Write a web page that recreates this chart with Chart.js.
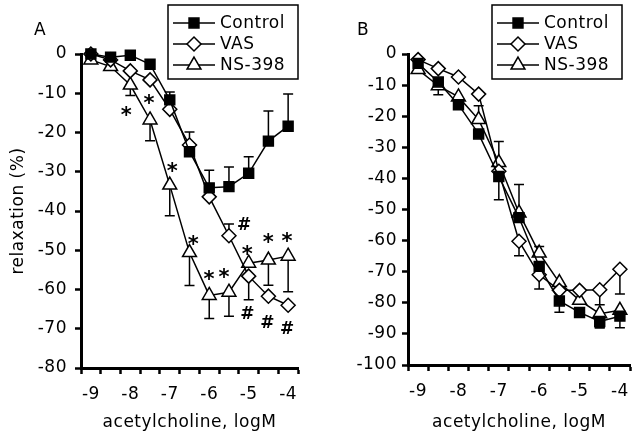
<!DOCTYPE html>
<html>
<head>
<meta charset="utf-8">
<script src="https://cdn.jsdelivr.net/npm/chart.js@4"></script>
<style>
  body { margin: 0; background: #fff; }
  #wrap { display: flex; width: 640px; height: 436px; }
  canvas { display: block; }
</style>
</head>
<body>
<div id="wrap">
  <canvas id="chartA" width="320" height="436"></canvas>
  <canvas id="chartB" width="320" height="436"></canvas>
</div>
<script>
// acetylcholine doses (log M)
const doses = [-9, -8.5, -8, -7.5, -7, -6.5, -6, -5.5, -5, -4.5, -4];
const seriesNames = ["Control", "VAS", "NS-398"];

// panel A: relaxation (%), error = signed length of the one-sided bar
const controlA = [0, -0.8, -0.3, -2.6, -11.7, -24.9, -34.1, -33.8, -30.4, -22.2, -18.4];
const controlAErr = [0, 0, 0, 0, 2, 5, 4.5, 5, 4.2, 7.7, 8.2];
const vasA = [0, -1.5, -4.3, -6.6, -14.1, -23.2, -36.4, -46.3, -56.6, -61.7, -64.0];
const vasAErr = [0, 0, 0, 0, 0, 0, 0, 3, -6, 0, 0];
const nsA = [-1.5, -3.2, -7.9, -16.8, -33.4, -50.6, -61.5, -60.7, -53.3, -52.5, -51.5];
const nsAErr = [0, 0, -2.7, -5.3, -7.8, -8.4, -5.9, -6.1, 0, -6.4, -9.1];

// panel B
const controlB = [-3, -9, -16.3, -25.7, -39.4, -52.6, -68.3, -79.4, -83.1, -86, -84.3];
const controlBErr = [0, 0, 0, 0, -7.5, 0, 0, -3.6, 0, -2, 0];
const vasB = [-1.8, -4.7, -7.4, -12.9, -37.7, -60.2, -71, -76, -76, -75.8, -69.2];
const vasBErr = [0, 0, 0, 0, 0, -4.7, -4.6, 0, 0, -4.8, -8];
const nsB = [-5, -10.2, -13.8, -21.1, -34.9, -51.1, -64, -73.5, -79.2, -83.5, -82.4];
const nsBErr = [0, -2.9, 0, 4.5, 6.8, 9.1, 2.1, 0, 0, -4.5, -5.6];

// significance marks in panel A
const starX = [-8.1, -7.52, -6.93, -6.4, -6.0, -5.62, -5.03, -4.5, -4.02];
const starY = [-14.5, -11.5, -28.7, -47.4, -56.3, -55.7, -49.9, -47, -46.5];
const hashX = [-5.11, -5.03, -4.52, -4.02];
const hashY = [-43.3, -65.9, -68.2, -69.6];

// tick labels
const xTickValues = [];
for (let v = -9.25; v <= -3.74; v += 0.25) xTickValues.push(Math.round(v * 100) / 100);
const yTicksA = [0, -10, -20, -30, -40, -50, -60, -70, -80];
const yTicksB = [0, -10, -20, -30, -40, -50, -60, -70, -80, -90, -100];

const FONT = '"DejaVu Sans", sans-serif';
Chart.defaults.font.family = FONT;
Chart.defaults.color = "#000";

const markerStyles = [
    { pointStyle: "rect", radius: 7, fill: "#000" },
    { pointStyle: "rectRot", radius: 7, fill: "#fff" },
    { pointStyle: "triangle", radius: 8, fill: "#fff" }
];

function makeDataset(i, values, errs) {
    const m = markerStyles[i];
    return {
        label: seriesNames[i],
        data: doses.map((d, k) => ({ x: d, y: values[k] })),
        err: errs,
        borderColor: "#000",
        borderWidth: 1.5,
        pointStyle: m.pointStyle,
        pointRadius: m.radius,
        pointBackgroundColor: m.fill,
        pointBorderColor: "#000",
        pointBorderWidth: 1.5,
        tension: 0,
        clip: false
    };
}

// the scanned lettering is a little wider than DejaVu
const spacing = {
    id: "spacing",
    beforeDraw(chart) { chart.ctx.letterSpacing = "0.5px"; }
};

const errorBars = {
    id: "errorBars",
    beforeDatasetsDraw(chart) {
        const { ctx, scales: { x, y } } = chart;
        ctx.save();
        ctx.strokeStyle = "#000";
        ctx.lineWidth = 1.5;
        chart.data.datasets.forEach(ds => {
            ds.err.forEach((e, i) => {
                if (!e) return;
                const px = x.getPixelForValue(ds.data[i].x);
                const y0 = y.getPixelForValue(ds.data[i].y);
                const y1 = y.getPixelForValue(ds.data[i].y + e);
                ctx.beginPath();
                ctx.moveTo(px, y0);
                ctx.lineTo(px, y1);
                ctx.moveTo(px - 5, y1);
                ctx.lineTo(px + 5, y1);
                ctx.stroke();
            });
        });
        ctx.restore();
    }
};

const marks = {
    id: "marks",
    afterDatasetsDraw(chart, args, opts) {
        if (!opts.items) return;
        const { ctx, scales: { x, y } } = chart;
        ctx.save();
        ctx.fillStyle = "#000";
        ctx.textAlign = "center";
        ctx.textBaseline = "alphabetic";
        opts.items.forEach(it => {
            ctx.font = it.text === "*" ? `bold 21px ${FONT}` : `bold 17px ${FONT}`;
            const m = ctx.measureText(it.text);
            const off = (m.actualBoundingBoxAscent - m.actualBoundingBoxDescent) / 2;
            ctx.fillText(it.text, x.getPixelForValue(it.x), y.getPixelForValue(it.y) + off);
        });
        ctx.restore();
    }
};

const legendBox = {
    id: "legendBox",
    afterDraw(chart, args, opts) {
        const ctx = chart.ctx;
        const bx = opts.x, by = 5, bw = 130, bh = 74;
        ctx.save();
        ctx.strokeStyle = "#000";
        ctx.lineWidth = 1.5;
        ctx.strokeRect(bx, by, bw, bh);
        chart.data.datasets.forEach((ds, i) => {
            const ry = by + 18 + i * 21;
            ctx.beginPath();
            ctx.moveTo(bx + 5, ry);
            ctx.lineTo(bx + 47, ry);
            ctx.stroke();
            ctx.fillStyle = ds.pointBackgroundColor;
            Chart.helpers.drawPoint(ctx, {
                pointStyle: ds.pointStyle, radius: ds.pointRadius, rotation: 0, borderWidth: 1.5
            }, bx + 26, ry);
            ctx.fillStyle = "#000";
            ctx.font = `17px ${FONT}`;
            ctx.textAlign = "left";
            ctx.textBaseline = "middle";
            ctx.fillText(ds.label, bx + 52, ry + 1);
        });
        ctx.font = `17px ${FONT}`;
        ctx.textAlign = "center";
        ctx.fillText(opts.letter, opts.letterX, 31);
        ctx.restore();
    }
};

function makeChart(id, sets, yMin, yTicks, opts) {
    return new Chart(document.getElementById(id), {
        type: "line",
        data: { datasets: sets },
        plugins: [spacing, errorBars, marks, legendBox],
        options: {
            responsive: false,
            animation: false,
            devicePixelRatio: 1,
            layout: { padding: { top: 54, right: opts.right, left: 0, bottom: 0 } },
            plugins: {
                legend: { display: false },
                tooltip: { enabled: false },
                marks: { items: opts.marks },
                legendBox: { x: opts.boxX, letter: opts.letter, letterX: opts.letterX }
            },
            scales: {
                x: {
                    type: "linear",
                    min: -9.25,
                    max: -3.75,
                    afterBuildTicks: s => { s.ticks = xTickValues.map(v => ({ value: v })); },
                    afterFit: s => { s.height = opts.xh; },
                    ticks: {
                        autoSkip: false,
                        maxRotation: 0,
                        padding: 10,
                        font: { size: 17 },
                        color: "#000",
                        callback: v => Number.isInteger(v) ? String(v) : ""
                    },
                    grid: {
                        drawOnChartArea: false,
                        tickLength: 6,
                        tickWidth: 2.5,
                        tickColor: c => (Math.abs((c.tick.value + 9.25) % 0.5) < 0.01) ? "#000" : "rgba(0,0,0,0)"
                    },
                    border: { color: "#000", width: 3 },
                    title: { display: true, text: "acetylcholine, logM", font: { size: 17 }, padding: { top: 0, bottom: 3 } }
                },
                y: {
                    min: yMin,
                    max: 0,
                    afterBuildTicks: s => { s.ticks = yTicks.map(v => ({ value: v })); },
                    afterFit: s => { s.width = opts.yw; },
                    ticks: { padding: opts.ypad, font: { size: 17 }, color: "#000" },
                    grid: { drawOnChartArea: false, tickLength: 6, tickWidth: 2.5, tickColor: "#000" },
                    border: { color: "#000", width: 3 },
                    title: { display: opts.ytitle, text: "relaxation (%)", font: { size: 17 }, padding: { top: 8, bottom: 0 } }
                }
            }
        }
    });
}

const marksA = starX.map((x, i) => ({ x, y: starY[i], text: "*" }))
    .concat(hashX.map((x, i) => ({ x, y: hashY[i], text: "#" })));

makeChart("chartA", [
    makeDataset(0, controlA, controlAErr),
    makeDataset(1, vasA, vasAErr),
    makeDataset(2, nsA, nsAErr)
], -80, yTicksA, { right: 22, xh: 68, yw: 81, ypad: 8, ytitle: true, marks: marksA, boxX: 168, letter: "A", letterX: 40 });

makeChart("chartB", [
    makeDataset(0, controlB, controlBErr),
    makeDataset(1, vasB, vasBErr),
    makeDataset(2, nsB, nsBErr)
], -100, yTicksB, { right: 7, xh: 71, yw: 88, ypad: 5, ytitle: false, marks: [], boxX: 172, letter: "B", letterX: 43 });
</script>
</body>
</html>
